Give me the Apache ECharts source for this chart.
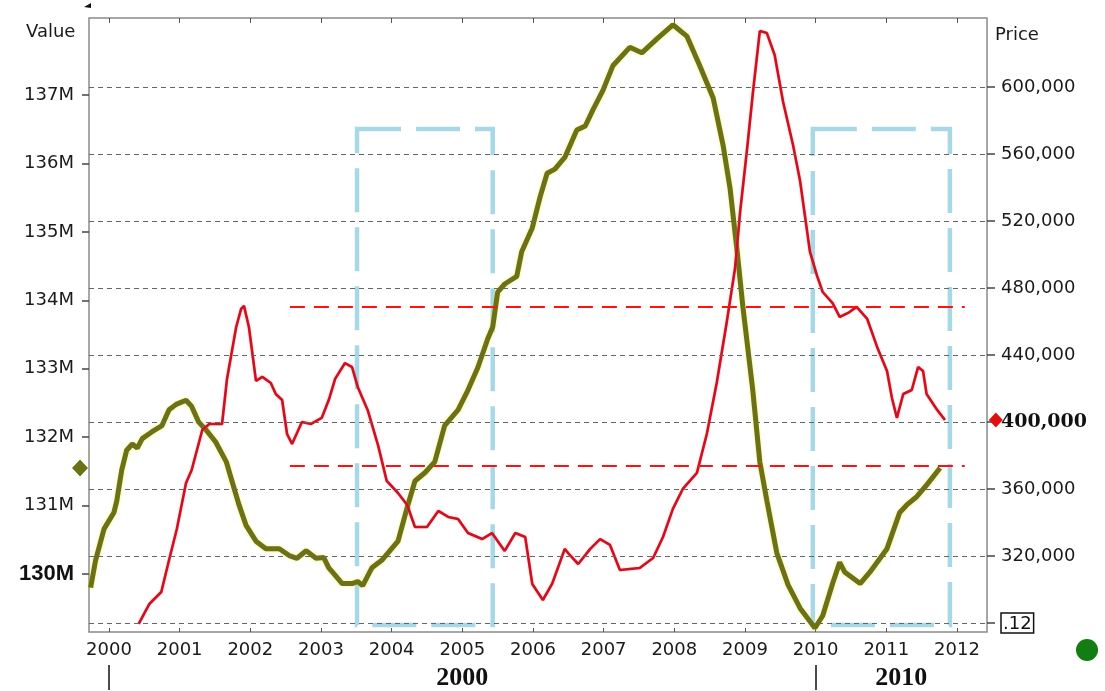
<!DOCTYPE html>
<html>
<head>
<meta charset="utf-8">
<title>Value / Price</title>
<script src="https://cdn.jsdelivr.net/npm/echarts@6/dist/echarts.min.js"></script>
<style>
  html, body { margin: 0; padding: 0; background: #fff; }
  #chart { width: 1105px; height: 691px; }
</style>
</head>
<body>
<div id="chart"></div>
<script>
// ---- data ----
const yearTicks = [2000, 2001, 2002, 2003, 2004, 2005, 2006, 2007, 2008, 2009, 2010, 2011, 2012];
const decadeTicks = [2000, 2010];
const valueTicks = [130, 131, 132, 133, 134, 135, 136, 137];           // M
const priceTicks = [280000, 320000, 360000, 400000, 440000, 480000, 520000, 560000, 600000];

const oliveYears = [1999.74, 1999.81, 1999.93, 2000.07, 2000.11, 2000.18, 2000.25, 2000.33, 2000.40, 2000.47,
  2000.61, 2000.75, 2000.85, 2000.95, 2001.09, 2001.17, 2001.27, 2001.37, 2001.51, 2001.66,
  2001.74, 2001.84, 2001.94, 2002.08, 2002.22, 2002.41, 2002.55, 2002.66, 2002.79, 2002.93,
  2003.04, 2003.11, 2003.16, 2003.30, 2003.44, 2003.52, 2003.59, 2003.72, 2003.86, 2004.09,
  2004.23, 2004.33, 2004.47, 2004.61, 2004.75, 2004.94, 2005.08, 2005.22, 2005.36, 2005.43,
  2005.50, 2005.60, 2005.77, 2005.84, 2005.99, 2006.10, 2006.20, 2006.31, 2006.45, 2006.62,
  2006.74, 2006.85, 2006.99, 2007.13, 2007.37, 2007.54, 2007.75, 2007.98, 2008.18, 2008.36,
  2008.55, 2008.69, 2008.79, 2008.89, 2008.97, 2009.11, 2009.21, 2009.31, 2009.45, 2009.61,
  2009.78, 2009.99, 2010.10, 2010.24, 2010.34, 2010.41, 2010.63, 2010.77, 2011.01, 2011.19,
  2011.29, 2011.43, 2011.57, 2011.76];
const oliveValues = [129.80, 130.20, 130.66, 130.90, 131.07, 131.52, 131.81, 131.90, 131.84, 131.98,
  132.08, 132.17, 132.40, 132.48, 132.54, 132.45, 132.22, 132.11, 131.93, 131.64,
  131.36, 131.01, 130.71, 130.48, 130.37, 130.37, 130.27, 130.23, 130.34, 130.23,
  130.24, 130.09, 130.03, 129.86, 129.86, 129.89, 129.83, 130.09, 130.20, 130.48,
  131.01, 131.36, 131.48, 131.64, 132.17, 132.40, 132.69, 133.02, 133.44, 133.61,
  134.12, 134.24, 134.35, 134.71, 135.06, 135.51, 135.86, 135.92, 136.09, 136.49,
  136.55, 136.79, 137.07, 137.43, 137.70, 137.62, 137.82, 138.03, 137.86, 137.43,
  136.96, 136.27, 135.63, 134.71, 133.91, 132.69, 131.64, 131.07, 130.31, 129.84,
  129.50, 129.21, 129.39, 129.86, 130.17, 130.03, 129.86, 130.03, 130.37, 130.90,
  131.01, 131.13, 131.30, 131.55];

const redYears = [2000.42, 2000.57, 2000.74, 2000.85, 2000.96, 2001.09, 2001.17, 2001.32, 2001.42, 2001.60,
  2001.67, 2001.80, 2001.87, 2001.91, 2001.98, 2002.08, 2002.17, 2002.29, 2002.36, 2002.45,
  2002.52, 2002.59, 2002.73, 2002.86, 2003.01, 2003.11, 2003.20, 2003.34, 2003.44, 2003.52,
  2003.66, 2003.81, 2003.93, 2004.09, 2004.22, 2004.33, 2004.50, 2004.66, 2004.80, 2004.94,
  2005.08, 2005.28, 2005.42, 2005.60, 2005.75, 2005.89, 2005.99, 2006.14, 2006.27, 2006.45,
  2006.52, 2006.64, 2006.81, 2006.95, 2007.09, 2007.23, 2007.51, 2007.70, 2007.84, 2007.98,
  2008.12, 2008.32, 2008.46, 2008.60, 2008.74, 2008.86, 2008.93, 2009.03, 2009.11, 2009.21,
  2009.31, 2009.42, 2009.54, 2009.68, 2009.78, 2009.92, 2010.02, 2010.10, 2010.24, 2010.34,
  2010.46, 2010.58, 2010.73, 2010.87, 2011.01, 2011.08, 2011.15, 2011.24, 2011.36, 2011.45,
  2011.52, 2011.57, 2011.72, 2011.83];
const redValues = [279400, 291300, 298500, 317600, 336100, 363600, 371300, 395200, 398800, 398800,
  425700, 456700, 467500, 469300, 456700, 424500, 426900, 423300, 416700, 413100,
  392800, 386900, 400000, 398800, 402400, 413100, 425700, 435200, 432800, 420900,
  407200, 385700, 364800, 357600, 350400, 337300, 337300, 346900, 343300, 342100,
  333700, 330100, 333700, 323000, 333700, 331300, 303300, 293700, 303300, 324200,
  320600, 315200, 324200, 330100, 326600, 311600, 312800, 318800, 331300, 348100,
  360000, 369600, 392800, 423300, 459100, 491900, 524800, 563000, 595800, 633400,
  632200, 619100, 591000, 565400, 543900, 501500, 487200, 477600, 471000, 462700,
  465100, 468700, 461500, 444800, 430400, 414300, 402400, 416700, 419100, 432800,
  430400, 416700, 407200, 401200];

// annotations
const highlightSpans = [[2003.51, 2005.43], [2009.96, 2011.90]];
const highlightPrices = [278800, 574900];
const refLevels = [468700, 373700];
const refSpan = [2002.56, 2012.11];

// axis extents
const xMin = 1999.717, xMax = 2012.425;
const valueMin = 129.152, valueMax = 138.129;
const priceMin = 274600, priceMax = 641200;
const markerYears = [1999.59, 2012.55];

const oliveColor = "#6b7114";
const redColor = "#cc1122";
const labelFont = "DejaVu Sans";

const chart = echarts.init(document.getElementById("chart"));

const zip = (xs, ys) => xs.map((x, i) => [x, ys[i]]);
const fmtPrice = v => v.toLocaleString("en-US");

const option = {
  animation: false,
  backgroundColor: "#fff",
  grid: {
    left: 89, right: 118, top: 18, bottom: 59,
    show: true, borderColor: "#8a8a8a", borderWidth: 1.5, backgroundColor: "transparent"
  },
  xAxis: [
    {
      type: "value", min: xMin, max: xMax, position: "bottom",
      axisLine: { show: false },
      splitLine: { show: false },
      axisTick: { inside: true, length: 4, customValues: yearTicks, lineStyle: { color: "#555" } },
      axisLabel: {
        customValues: yearTicks, margin: 9,
        fontFamily: labelFont, fontSize: 18, color: "#1a1a1a",
        formatter: v => String(v)
      }
    },
    {
      type: "value", min: xMin, max: xMax, position: "top",
      axisLine: { show: false },
      splitLine: { show: false },
      axisTick: { inside: true, length: 5, customValues: yearTicks, lineStyle: { color: "#555" } },
      axisLabel: { show: false }
    },
    {
      type: "value", min: xMin, max: xMax, position: "bottom", offset: 33,
      axisLine: { show: false },
      splitLine: { show: false },
      axisTick: { length: 25, customValues: decadeTicks, lineStyle: { color: "#111", width: 1.5 } },
      axisLabel: {
        // decade label centred in the visible part of that decade
        customValues: decadeTicks.map(d => (d + Math.min(d + 10, xMax)) / 2),
        margin: 0,
        fontFamily: "Liberation Serif", fontWeight: "bold", fontSize: 26, color: "#111",
        formatter: v => String(decadeTicks.find(d => v > d && v < d + 10))
      }
    }
  ],
  yAxis: [
    {
      type: "value", min: valueMin, max: valueMax, position: "left",
      axisLine: { show: false },
      splitLine: { show: false },
      axisTick: { show: true, length: 7, customValues: valueTicks, lineStyle: { color: "#444", width: 1.5 } },
      axisLabel: {
        customValues: valueTicks, margin: 15,
        fontFamily: labelFont, fontSize: 18, color: "#1a1a1a",
        formatter: v => (v === 130 ? "{b|" + v + "M}" : v + "M"),
        rich: {
          b: { fontFamily: "Liberation Sans", fontWeight: "bold", fontSize: 22, color: "#111" }
        }
      }
    },
    {
      type: "value", min: priceMin, max: priceMax, position: "right",
      axisLine: { show: false },
      splitLine: { show: false },
      axisTick: { show: true, length: 8, customValues: priceTicks, lineStyle: { color: "#444", width: 1.5 } },
      axisLabel: {
        customValues: priceTicks, margin: 14,
        fontFamily: labelFont, fontSize: 18, color: "#1a1a1a",
        formatter: v => {
          if (v === priceTicks[0]) return "{box|.12}";
          if (v === 400000) return "{b|" + fmtPrice(v) + "}";
          return fmtPrice(v);
        },
        rich: {
          b: { fontFamily: "DejaVu Serif", fontWeight: "bold", fontSize: 19, color: "#111" },
          box: {
            fontFamily: labelFont, fontSize: 18, color: "#111",
            borderColor: "#111", borderWidth: 1.5, padding: [2, 2, 0, 2]
          }
        }
      }
    }
  ],
  series: [
    {
      // dashed grid (price levels) + highlight boxes
      type: "line", xAxisIndex: 0, yAxisIndex: 1, data: [], z: 1, silent: true,
      markLine: {
        silent: true, symbol: "none", label: { show: false },
        lineStyle: { color: "#666", type: [5, 4], width: 1.2 },
        data: priceTicks.map(v => ({ yAxis: v }))
      },
      markArea: {
        silent: true,
        itemStyle: {
          color: "transparent", borderColor: "#a8d8e6", borderWidth: 4.5, borderType: [44, 15]
        },
        data: highlightSpans.map(s => [
          { xAxis: s[0], yAxis: highlightPrices[1] },
          { xAxis: s[1], yAxis: highlightPrices[0] }
        ])
      }
    },
    {
      name: "Value", type: "line", xAxisIndex: 0, yAxisIndex: 0, z: 3,
      showSymbol: false, data: zip(oliveYears, oliveValues),
      lineStyle: { color: oliveColor, width: 5, shadowColor: "rgba(235,235,60,0.7)", shadowBlur: 3 }
    },
    {
      name: "Price", type: "line", xAxisIndex: 0, yAxisIndex: 1, z: 4,
      showSymbol: false, data: zip(redYears, redValues),
      lineStyle: { color: redColor, width: 2.6, shadowColor: "rgba(255,120,120,0.6)", shadowBlur: 2 },
      markLine: {
        silent: true, symbol: "none", label: { show: false },
        lineStyle: { color: "#ff1111", type: [15, 9], width: 2 },
        data: refLevels.map(v => [{ coord: [refSpan[0], v] }, { coord: [refSpan[1], v] }])
      }
    },
    {
      // last-value markers in the axis gutters
      type: "scatter", xAxisIndex: 0, yAxisIndex: 0, clip: false, z: 5,
      symbol: "diamond", symbolSize: [16, 17], itemStyle: { color: oliveColor, opacity: 1 },
      data: [[markerYears[0], oliveValues[oliveValues.length - 1]]]
    },
    {
      type: "scatter", xAxisIndex: 0, yAxisIndex: 1, clip: false, z: 5,
      symbol: "diamond", symbolSize: [14, 15], itemStyle: { color: "#e01010", opacity: 1 },
      data: [[markerYears[1], redValues[redValues.length - 1]]]
    }
  ],
  graphic: [
    { type: "text", left: 26, top: 23, style: { text: "Value", font: "18px 'DejaVu Sans'", fill: "#1a1a1a" } },
    { type: "text", left: 995, top: 26, style: { text: "Price", font: "18px 'DejaVu Sans'", fill: "#1a1a1a" } },
    { type: "polygon", shape: { points: [[84, 7], [91, 3], [91, 8]] }, style: { fill: "#111" } },
    { type: "circle", shape: { cx: 1087, cy: 650, r: 11 }, style: { fill: "#127d12" } }
  ]
};

chart.setOption(option);
</script>
</body>
</html>
